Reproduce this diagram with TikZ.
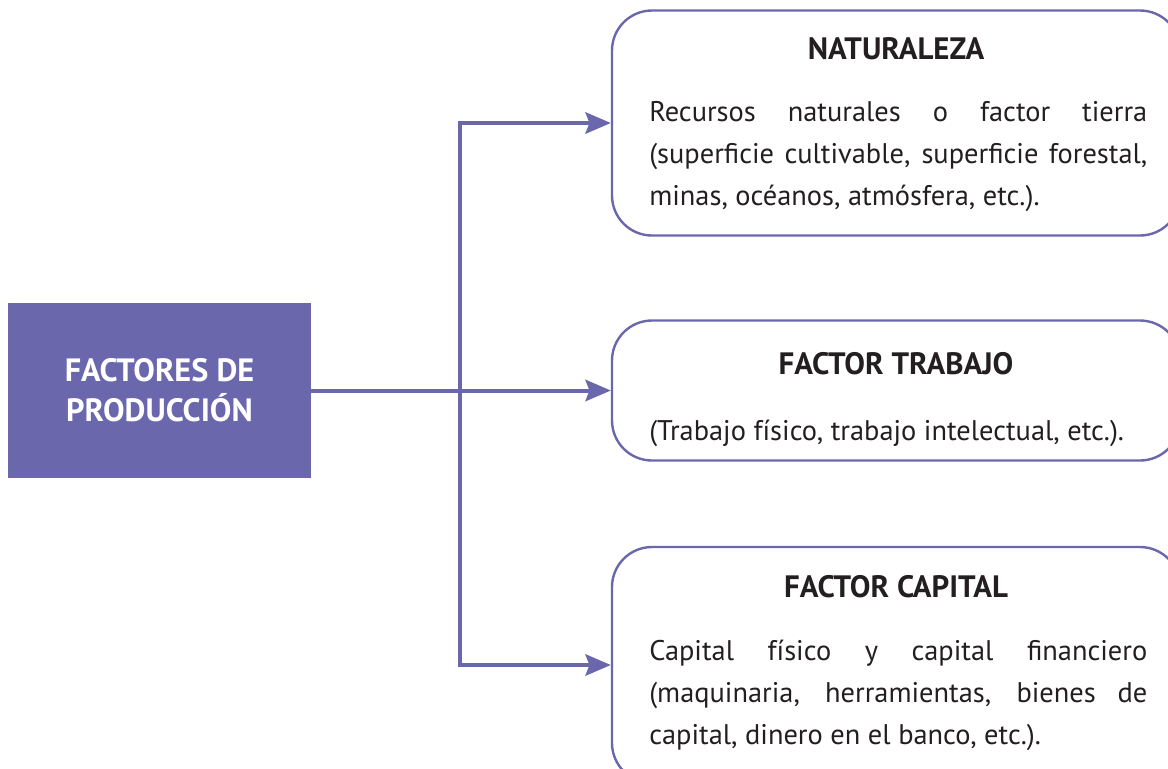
\documentclass[tikz,border=0pt]{standalone}
\usepackage{fontspec}
\setmainfont{PT Sans}
\usetikzlibrary{arrows.meta,positioning,calc}
\definecolor{lila}{HTML}{6A67AD}
\definecolor{texto}{HTML}{231F20}

\begin{document}
\begin{tikzpicture}[x=0.75pt, y=-0.75pt, >={Stealth[length=19pt,width=16pt,inset=3pt]}]
\tikzset{
  factor/.style={draw=lila, line width=1.8pt, rounded corners=30pt, minimum width=426pt, inner sep=0pt},
  titulo/.style={font=\bfseries\fontsize{23.2}{27}\selectfont, text=texto, inner sep=0pt, anchor=base},
  cuerpo/.style={font=\fontsize{21.3}{31.5}\selectfont, text=texto, text width=373.5pt, align=justify, inner sep=0pt, anchor=base west},
  flecha/.style={->, draw=lila, line width=3pt},
}
\useasboundingbox (0,0) rectangle (1168,768);
% caja de origen
\node[fill=lila, minimum width=227.25pt, minimum height=131.25pt, inner sep=0pt,
  text=white, align=center, font=\bfseries\fontsize{24.2}{30}\selectfont] (fp) at (159.5,390.5) {FACTORES DE\\PRODUCCIÓN};
% cajas de destino
\node[factor, minimum height=168.75pt] (nat) at (896,123) {};
\node[factor, minimum height=105pt] (trab) at (896,390.5) {};
\node[factor, minimum height=177pt] (cap) at (896,665) {};
\node[titulo] (natT) at (896,59) {NATURALEZA};
\node[cuerpo] (natC) at (649,121) {Recursos naturales o factor tierra\linebreak
  (superficie cultivable, superficie forestal,\linebreak minas, océanos, atmósfera, etc.).};
\node[titulo] (trabT) at (896,374) {FACTOR TRABAJO};
\node[cuerpo] (trabC) at (649,440) {(Trabajo físico, trabajo intelectual, etc.).};
\node[titulo] (capT) at (896,597) {FACTOR CAPITAL};
\node[cuerpo] (capC) at (649,660) {Capital físico y capital financiero\linebreak
  (maquinaria, herramientas, bienes de\linebreak capital, dinero en el banco, etc.).};
% conexiones
\coordinate (rama) at (460,390.5);
\draw[flecha] (fp.east) -- (trab.west);
\draw[flecha] (rama) |- (nat.west);
\draw[flecha] (rama) |- (cap.west);
\end{tikzpicture}
\end{document}
